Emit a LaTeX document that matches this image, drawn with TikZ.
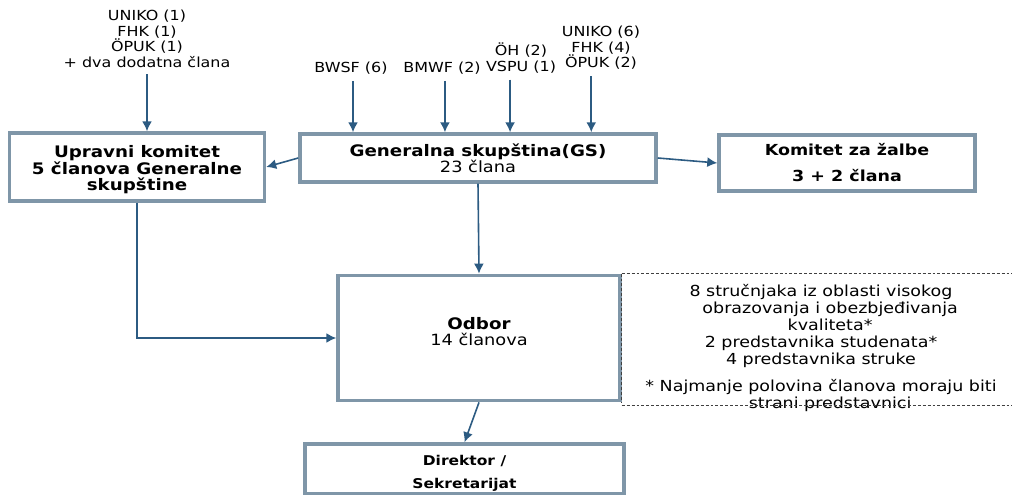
\documentclass[tikz,border=0pt]{standalone}
\usepackage{fontspec}
\setmainfont{DejaVu Sans}[FakeStretch=1.15]
\usetikzlibrary{positioning,arrows.meta}
\definecolor{boxgray}{HTML}{7F96A8}
\definecolor{arrblue}{HTML}{2C5B82}
\newcommand{\titlefont}{\fontsize{11.9}{12.4}\selectfont\bfseries}
\newcommand{\countfont}{\fontsize{11.6}{12.4}\selectfont}
\tikzset{
	box/.style={draw=boxgray,line width=2.6pt,fill=white,align=center,inner sep=2pt},
	arr/.style={draw=arrblue,line width=1.2pt,-{Latex[length=7.5pt,width=7.5pt]}},
	src/.style={align=center,inner sep=0pt,outer sep=5pt,font=\fontsize{10.4}{11.6}\selectfont},
	bigb/.style={font=\titlefont},
	dashline/.style={draw=black!75,line width=0.6pt,dash pattern=on 2.2pt off 1.5pt}
}

\begin{document}
\begin{tikzpicture}[x=0.75pt,y=-0.75pt]
	\useasboundingbox (0,0) rectangle (1012,495);
	% source groups
	\node[src] (uk1) at (147,39) {UNIKO (1)\\FHK (1)\\ÖPUK (1)\\+ dva dodatna člana};
	\node[src] (bwsf) at (351,68) {BWSF (6)};
	\node[src] (bmwf) at (442,68) {BMWF (2)};
	\node[src] (oeh) at (521,58) {ÖH (2)\\VSPU (1)};
	\node[src] (uk6) at (601,48) {UNIKO (6)\\FHK (4)\\ÖPUK (2)};
	% boxes
	\node[box,bigb,minimum width=191.25pt,minimum height=51pt,text height=38pt] (uk) at (137,167) {Upravni komitet\\5 članova Generalne\\skupštine};
	\node[box,minimum width=267pt,minimum height=36pt] (gs) at (478,158) {{\titlefont Generalna skupština(GS)}\\{\countfont 23 člana}};
	\node[box,minimum width=192pt,minimum height=42pt,font=\fontsize{11.4}{19.5}\selectfont\bfseries] (kz) at (847,163) {Komitet za žalbe\\3 + 2 člana};
	\node[box,minimum width=211.5pt,minimum height=94pt,text depth=10.5pt] (odbor) at (479,338) {{\titlefont Odbor}\\{\countfont 14 članova}};
	\node[box,minimum width=239.25pt,minimum height=37.5pt,text height=30.7pt,font=\fontsize{10.1}{17}\selectfont\bfseries] (dir) at (464.5,469) {Direktor /\\Sekretarijat};
	% odbor members
	\node[align=center,inner sep=0pt,font=\fontsize{11.4}{12.9}\selectfont] (members) at (821,326) {8 stručnjaka iz oblasti visokog\\\hspace*{1.2em}obrazovanja i obezbjeđivanja\\\hspace*{1.2em}kvaliteta*\\2 predstavnika studenata*\\4 predstavnika struke};
	\node[align=center,inner sep=0pt,font=\fontsize{11.4}{12.9}\selectfont] (note) at (821,395.5) {* Najmanje polovina članova moraju biti\\\hspace*{1.2em}strani predstavnici};
	% connectors
	\draw[arr] (uk1.south) -- (uk1.south |- uk.north);
	\draw[arr] ([xshift=1.5pt]bwsf.south) -- ([xshift=1.5pt]bwsf.south |- gs.north);
	\draw[arr] ([xshift=2.2pt]bmwf.south) -- ([xshift=2.2pt]bmwf.south |- gs.north);
	\draw[arr] ([xshift=-8.2pt]oeh.south) -- ([xshift=-8.2pt]oeh.south |- gs.north);
	\draw[arr] ([xshift=-7.3pt]uk6.south) -- ([xshift=-7.3pt]uk6.south |- gs.north);
	\draw[arr] (gs.west) -- (uk.east);
	\draw[arr] (gs.east) -- (kz.west);
	\draw[arr] (gs.south) -- (odbor.north);
	\draw[arr] (uk.south) |- (odbor.west);
	\draw[arr] (odbor.south) -- (dir.north);
	% dashed frame
	\draw[dashline] (odbor.north east) -- ++(392,0);
	\draw[dashline] ([yshift=-2pt]odbor.south east) -- ++(392,0);
	\draw[dashline] (odbor.north east) -- (odbor.south east);
\end{tikzpicture}
\end{document}
